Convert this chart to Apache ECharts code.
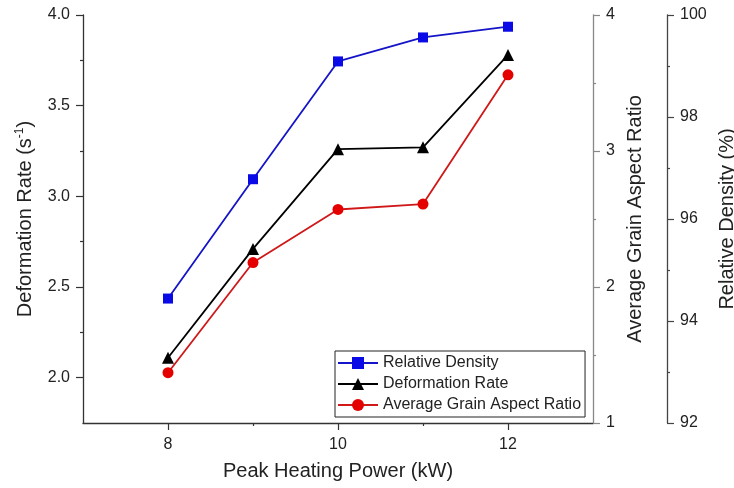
<!DOCTYPE html>
<html>
<head>
<meta charset="utf-8">
<script src="https://cdn.jsdelivr.net/npm/echarts@6/dist/echarts.min.js"></script>
<style>html,body{margin:0;padding:0;background:#fff}#c{width:734px;height:488px}</style>
</head>
<body>
<div id="c"></div>
<script>
const powers = [8, 9, 10, 11, 12];
const relativeDensity = [94.44, 96.78, 99.09, 99.56, 99.77];
const deformationRate = [2.11, 2.71, 3.26, 3.27, 3.78];
const grainAspectRatio = [1.37, 2.18, 2.57, 2.61, 3.56];

const xMajorTicks = [8, 10, 12];
const xMinorTicks = [9, 11];
const rateMajorTicks = [2.0, 2.5, 3.0, 3.5, 4.0];
const rateMinorTicks = [2.25, 2.75, 3.25, 3.75];
const ratioMajorTicks = [1, 2, 3, 4];
const ratioMinorTicks = [1.5, 2.5, 3.5];
const densityMajorTicks = [92, 94, 96, 98, 100];
const densityMinorTicks = [93, 95, 97, 99];

const FONT = 'Liberation Sans, Arial, sans-serif';
const pair = (xs, ys) => xs.map((x, i) => [x, ys[i]]);

function yAx(opts) {
  const base = {
    type: 'value', min: opts.min, max: opts.max, position: opts.position, offset: opts.offset || 0,
    splitLine: { show: false },
    axisLine: { show: opts.line !== false, onZero: false, lineStyle: { color: opts.color, width: 1.3 } },
    axisTick: { show: true, inside: false, length: opts.tickLen, customValues: opts.ticks, lineStyle: { color: opts.color, width: 1.2 } },
    axisLabel: { show: !!opts.labels, customValues: opts.ticks, margin: 13, color: '#222', fontSize: 16, fontFamily: FONT,
                 formatter: opts.fmt },
  };
  if (opts.name) {
    base.name = opts.name;
    base.nameLocation = 'middle';
    base.nameGap = opts.nameGap;
    base.nameRotate = 90;
    base.nameTextStyle = { color: '#222', fontSize: 20, fontFamily: FONT, rich: opts.rich };
  }
  return base;
}

const option = {
  backgroundColor: '#fff',
  animation: false,
  grid: { left: 83, right: 141, top: 15, bottom: 65, containLabel: false, outerBoundsMode: 'none' },
  legend: {
    orient: 'vertical', left: 335, top: 351,
    padding: [4, 4, 4, 2], itemGap: 5, itemWidth: 40, itemHeight: 15,
    borderColor: '#222', borderWidth: 1,
    textStyle: { fontSize: 16, fontFamily: FONT, color: '#222' },
    data: ['Relative Density', 'Deformation Rate', 'Average Grain Aspect Ratio']
  },
  xAxis: [
    {
      type: 'value', min: 7, max: 13, splitLine: { show: false },
      axisLine: { onZero: false, lineStyle: { color: '#333', width: 1.3 } },
      axisTick: { length: 7, customValues: xMajorTicks, lineStyle: { color: '#333', width: 1.2 } },
      axisLabel: { customValues: xMajorTicks, margin: 14, color: '#222', fontSize: 16, fontFamily: FONT },
      name: 'Peak Heating Power (kW)', nameLocation: 'middle', nameGap: 38,
      nameTextStyle: { color: '#222', fontSize: 20, fontFamily: FONT }
    },
    {
      type: 'value', min: 7, max: 13, position: 'bottom', splitLine: { show: false },
      axisLine: { show: false, onZero: false },
      axisTick: { length: 3, customValues: xMinorTicks, lineStyle: { color: '#333', width: 1.2 } },
      axisLabel: { show: false }
    }
  ],
  yAxis: [
    yAx({ min: 1.75, max: 4.0, position: 'left', color: '#333', tickLen: 7, ticks: rateMajorTicks, labels: true,
          fmt: v => v.toFixed(1),
          name: 'Deformation Rate (s{sup|-1})', nameGap: 47,
          rich: { sup: { fontSize: 12, fontFamily: FONT, color: '#222', verticalAlign: 'top', padding: [0, 0, 10, 0] } } }),
    yAx({ min: 1, max: 4, position: 'right', color: '#888', tickLen: 7, ticks: ratioMajorTicks, labels: true,
          fmt: v => String(v), name: 'Average Grain Aspect Ratio', nameGap: 30 }),
    yAx({ min: 92, max: 100, position: 'right', offset: 74, color: '#444', tickLen: 7, ticks: densityMajorTicks, labels: true,
          fmt: v => String(v), name: 'Relative Density (%)', nameGap: 47 }),
    yAx({ min: 1.75, max: 4.0, position: 'left', color: '#333', tickLen: 3, ticks: rateMinorTicks, line: false }),
    yAx({ min: 1, max: 4, position: 'right', color: '#888', tickLen: 3, ticks: ratioMinorTicks, line: false }),
    yAx({ min: 92, max: 100, position: 'right', offset: 74, color: '#444', tickLen: 3, ticks: densityMinorTicks, line: false })
  ],
  series: [
    {
      name: 'Relative Density', type: 'line', xAxisIndex: 0, yAxisIndex: 2,
      data: pair(powers, relativeDensity), symbol: 'rect', symbolSize: 10,
      itemStyle: { color: '#0a0ae6' }, lineStyle: { color: '#1414c8', width: 1.8 }, z: 3
    },
    {
      name: 'Deformation Rate', type: 'line', xAxisIndex: 0, yAxisIndex: 0,
      data: pair(powers, deformationRate), symbol: 'triangle', symbolSize: 12,
      itemStyle: { color: '#000' }, lineStyle: { color: '#000', width: 1.8 }, z: 3
    },
    {
      name: 'Average Grain Aspect Ratio', type: 'line', xAxisIndex: 0, yAxisIndex: 1,
      data: pair(powers, grainAspectRatio), symbol: 'circle', symbolSize: 11,
      itemStyle: { color: '#e50000' }, lineStyle: { color: '#d01818', width: 1.8 }, z: 3
    }
  ]
};
const chart = echarts.init(document.getElementById('c'), null, { renderer: 'canvas' });
chart.setOption(option);
</script>
</body>
</html>
